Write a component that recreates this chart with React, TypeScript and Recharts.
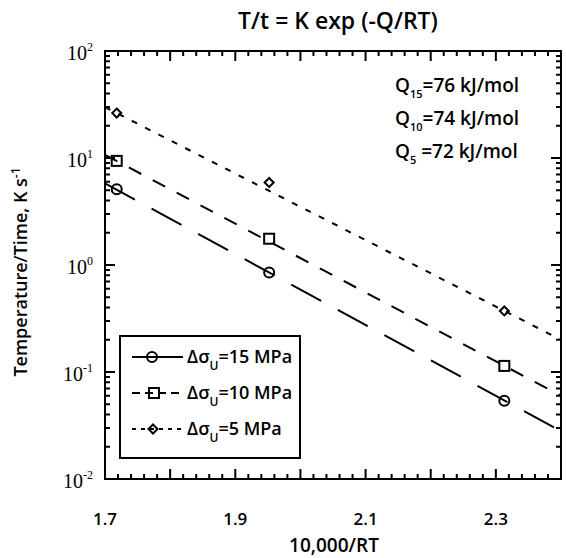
import { ScatterChart, Scatter, XAxis, YAxis } from 'recharts'

const FONT = '"Open Sans", "Liberation Sans", sans-serif'
const SERIF = '"Liberation Serif", "DejaVu Serif", serif'

// 10,000/RT of the three test temperatures
const invRT = [1.718, 1.952, 2.313]

// temperature/time (K/s) for each stress range
const rate15 = [5.1, 0.85, 0.054]
const rate10 = [9.4, 1.76, 0.114]
const rate5 = [26.3, 5.9, 0.372]

// ends of the fitted Arrhenius lines
const fitX = [1.7, 2.4]
const fit15 = [5.8, 0.028]
const fit10 = [10.7, 0.06]
const fit5 = [29.9, 0.2]

const legendValues = ['15', '10', '5']
const qSubs = ['15', '10', '5']
const qTexts = ['=76 kJ/mol', '=74 kJ/mol', ' =72 kJ/mol']

const xMajor = [1.7, 1.8, 1.9, 2.0, 2.1, 2.2, 2.3, 2.4]
const xLabelled = [1.7, 1.9, 2.1, 2.3]
const yDecades = [0.01, 0.1, 1, 10, 100]
const yExponents = ['-2', '-1', '0', '1', '2']

const xTicks = Array.from({ length: 36 }, (_, i) => Math.round((1.7 + i * 0.02) * 100) / 100)
const yTicks = [
  ...yDecades.slice(0, -1).flatMap((d) =>
    [1, 2, 3, 4, 5, 6, 7, 8, 9].map((m) => Number((d * m).toPrecision(2)))
  ),
  100,
]

// layout: plot box is 105..561 x 51..479
const W = 566
const H = 558
const PLOT = { left: 105, top: 51, width: 456, height: 428 }

const near = (a: number, b: number) => Math.abs(a - b) < 1e-6
const isMajorX = (v: number) => xMajor.some((m) => near(m, v))

const toPoints = (xs: number[], ys: number[]) => xs.map((x, i) => ({ x, y: ys[i] }))

// bottom axis tick: inward mark on the bottom and the matching one on the top edge
const BottomTick = ({ x, y, payload }: any) => {
  const v = payload.value
  const len = isMajorX(v) ? 10 : 5
  const top = y - PLOT.height
  const label = xLabelled.find((l) => near(l, v))
  return (
    <g>
      <path d={`M${x},${y}V${y - len}M${x},${top}V${top + len}`} stroke="#000" strokeWidth={2} fill="none" />
      {label !== undefined && (
        <text x={x} y={y + 46} textAnchor="middle" fontFamily={FONT} fontSize={17} fontWeight={600} fill="#000">
          {label.toFixed(1)}
        </text>
      )}
    </g>
  )
}

// left axis tick: inward mark on the left and the matching one on the right edge
const LeftTick = ({ x, y, payload }: any) => {
  const idx = yDecades.findIndex((d) => near(d, payload.value))
  const len = idx >= 0 ? 10 : 5
  const right = x + PLOT.width
  return (
    <g>
      <path d={`M${x},${y}H${x + len}M${right},${y}H${right - len}`} stroke="#000" strokeWidth={2} fill="none" />
      {idx >= 0 && (
        <text x={x - 12} y={y + 9} textAnchor="end" fontFamily={SERIF} fontSize={20} fill="#000">
          10
          <tspan dy={-9} fontSize={12}>
            {yExponents[idx]}
          </tspan>
        </text>
      )}
    </g>
  )
}

const OpenCircle = ({ cx, cy }: any) => (
  <circle cx={cx} cy={cy} r={5} fill="none" stroke="#000" strokeWidth={2} />
)
const OpenSquare = ({ cx, cy }: any) => (
  <rect x={cx - 5} y={cy - 5} width={10} height={10} fill="none" stroke="#000" strokeWidth={2} />
)
const OpenDiamond = ({ cx, cy }: any) => (
  <path d={`M${cx},${cy - 4.5}L${cx + 4.5},${cy}L${cx},${cy + 4.5}L${cx - 4.5},${cy}Z`} fill="none" stroke="#000" strokeWidth={2} />
)
const NoMark = () => <g />

const legendDash = ['none', '8 5', '4 5']

const LegendBox = () => (
  <div
    style={{
      position: 'absolute',
      left: 119,
      top: 335,
      width: 182,
      height: 124,
      border: '2px solid #000',
      boxSizing: 'border-box',
      background: '#fff',
    }}
  >
    <svg width={178} height={120} style={{ display: 'block' }}>
      {legendValues.map((val, i) => {
        const cy = 20 + i * 36
        return (
          <g key={val}>
            <line x1={11} x2={62} y1={cy} y2={cy} stroke="#000" strokeWidth={2} strokeDasharray={legendDash[i]} />
            {i === 0 && <OpenCircle cx={31} cy={cy} />}
            {i === 1 && <OpenSquare cx={33} cy={cy} />}
            {i === 2 && <OpenDiamond cx={32} cy={cy} />}
            <text x={66} y={cy + 6} fontFamily={FONT} fontSize={18} fontWeight={600} fill="#000">
              Δσ
              <tspan dy={7} fontSize={12}>U</tspan>
              <tspan dy={-7}>={val} MPa</tspan>
            </text>
          </g>
        )
      })}
    </svg>
  </div>
)

const Overlay = () => (
  <svg
    width={W}
    height={H}
    style={{ position: 'absolute', left: 0, top: 0, pointerEvents: 'none' }}
  >
    <rect
      x={PLOT.left}
      y={PLOT.top}
      width={PLOT.width}
      height={PLOT.height}
      fill="none"
      stroke="#000"
      strokeWidth={2}
    />
    <g fill="#000" fontFamily={FONT} fontWeight={600}>
      <text x={338} y={29} textAnchor="middle" fontSize={23}>
        T/t = K exp (-Q/RT)
      </text>
      <text transform="translate(27,272) rotate(-90)" textAnchor="middle" fontSize={18}>
        Temperature/Time, K s
        <tspan dy={-7} fontSize={12}>-1</tspan>
      </text>
      <text x={334} y={552} textAnchor="middle" fontSize={19}>
        10,000/RT
      </text>
      {qSubs.map((sub, i) => (
        <text key={sub} x={395} y={92 + i * 33} fontSize={19}>
          Q
          <tspan dy={6} fontSize={11}>{sub}</tspan>
          <tspan dy={-6}>{qTexts[i]}</tspan>
        </text>
      ))}
    </g>
  </svg>
)

export default function App() {
  return (
    <div style={{ position: 'absolute', left: 0, top: 0, width: W, height: H, background: '#fff' }}>
      <ScatterChart
        width={W}
        height={H}
        margin={{ top: PLOT.top, right: W - PLOT.left - PLOT.width, bottom: H - PLOT.top - PLOT.height - 30, left: PLOT.left - 60 }}
      >
        <XAxis
          type="number"
          dataKey="x"
          domain={[1.7, 2.4]}
          allowDataOverflow
          ticks={xTicks}
          interval={0}
          height={30}
          tickSize={0}
          tickMargin={0}
          tickLine={false}
          stroke="#000"
          axisLine={{ stroke: '#000', strokeWidth: 2 }}
          tick={<BottomTick />}
        />
        <YAxis
          type="number"
          dataKey="y"
          scale="log"
          domain={[0.01, 100]}
          allowDataOverflow
          ticks={yTicks}
          interval={0}
          width={60}
          tickSize={0}
          tickMargin={0}
          tickLine={false}
          stroke="#000"
          axisLine={{ stroke: '#000', strokeWidth: 2 }}
          tick={<LeftTick />}
        />
        <Scatter
          data={toPoints(fitX, fit15)}
          fill="#000"
          line={{ stroke: '#000', strokeWidth: 2, strokeDasharray: '34 19' }}
          shape={<NoMark />}
          legendType="none"
          isAnimationActive={false}
        />
        <Scatter
          data={toPoints(fitX, fit10)}
          fill="#000"
          line={{ stroke: '#000', strokeWidth: 2, strokeDasharray: '14 13' }}
          shape={<NoMark />}
          legendType="none"
          isAnimationActive={false}
        />
        <Scatter
          data={toPoints(fitX, fit5)}
          fill="#000"
          line={{ stroke: '#000', strokeWidth: 2, strokeDasharray: '6 9' }}
          shape={<NoMark />}
          legendType="none"
          isAnimationActive={false}
        />
        <Scatter name="15 MPa" data={toPoints(invRT, rate15)} fill="#000" shape={<OpenCircle />} isAnimationActive={false} />
        <Scatter name="10 MPa" data={toPoints(invRT, rate10)} fill="#000" shape={<OpenSquare />} isAnimationActive={false} />
        <Scatter name="5 MPa" data={toPoints(invRT, rate5)} fill="#000" shape={<OpenDiamond />} isAnimationActive={false} />
      </ScatterChart>
      <Overlay />
      <LegendBox />
    </div>
  )
}
